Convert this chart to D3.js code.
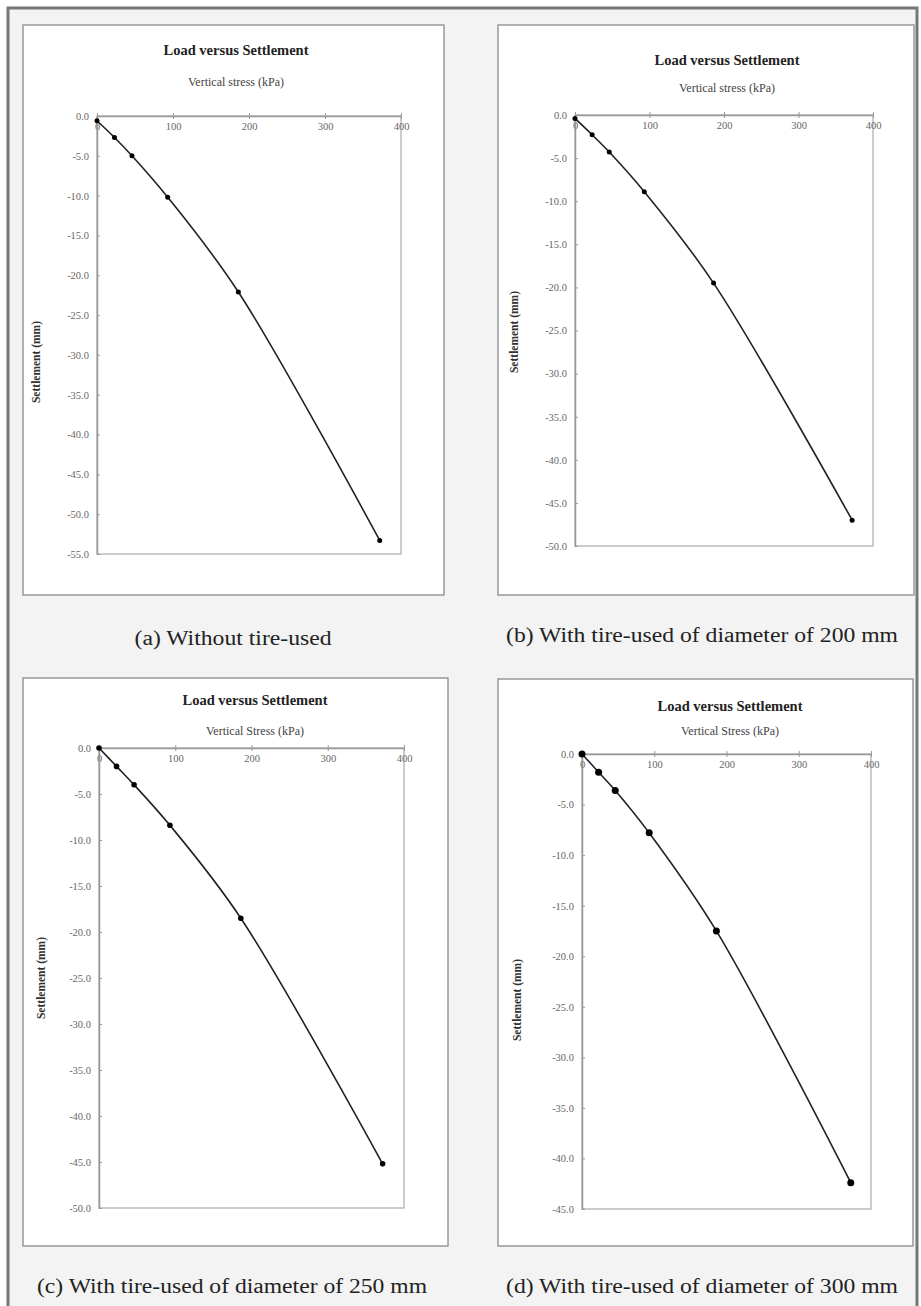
<!DOCTYPE html>
<html lang="en">
<head>
    <meta charset="UTF-8">
    <title>Load versus Settlement</title>
    <script src="https://d3js.org/d3.v7.min.js"></script>
    <style>
        body { margin: 0; background: #fff; }
        svg, svg text, .tick text { font-family: "Liberation Serif", "DejaVu Serif", serif !important; }
        .tick text { fill: #666; font-size: 10.5px; }
        .axis path, .axis line { stroke: #999; }
    </style>
</head>
<body>
    <svg width="921" height="1306"></svg>

    <script>
        // vertical stress (kPa), same load steps for each test
        const stress = [0, 23, 46, 93, 186, 372];
        // settlement (mm) per test
        const settleA = [-0.6, -2.7, -5.0, -10.2, -22.1, -53.3];
        const settleB = [-0.4, -2.3, -4.3, -8.9, -19.5, -47.0];
        const settleC = [0, -2.0, -4.0, -8.4, -18.5, -45.2];
        const settleD = [0, -1.8, -3.6, -7.8, -17.5, -42.4];
        const yMins = [-55, -50, -50, -45];
        const xLabels = ["Vertical stress (kPa)", "Vertical stress (kPa)", "Vertical Stress (kPa)", "Vertical Stress (kPa)"];
        const captions = [
            "(a) Without tire-used",
            "(b) With tire-used of diameter of 200 mm",
            "(c) With tire-used of diameter of 250 mm",
            "(d) With tire-used of diameter of 300 mm"
        ];
        const series = [settleA, settleB, settleC, settleD];
        const serif = "'Liberation Serif', 'DejaVu Serif', serif";

        // layout of each panel: box, plot area, title / label / caption positions
        const panels = [
            { box: [23, 25, 444, 595], plot: [97, 116, 401, 554], tx: 236, ty: 55, sy: 86, yl: 40, yc: 362, cx: 233, cy: 645, cw: 197, r: 2.5 },
            { box: [498, 25, 914, 595], plot: [575, 115, 873, 546], tx: 727, ty: 65, sy: 92, yl: 518, yc: 332, cx: 702, cy: 642, cw: 392, r: 2.5 },
            { box: [23, 678, 448, 1246], plot: [99, 748, 404, 1208], tx: 255, ty: 705, sy: 735, yl: 45, yc: 978, cx: 232, cy: 1293, cw: 390, r: 2.8 },
            { box: [498, 679, 913, 1246], plot: [582, 754, 871, 1209], tx: 730, ty: 711, sy: 735, yl: 521, yc: 1000, cx: 702, cy: 1293, cw: 392, r: 3.5 }
        ];

        const svg = d3.select("svg").attr("font-family", serif);

        // outer frame
        svg.append("rect")
            .attr("x", 8).attr("y", 8).attr("width", 909).attr("height", 1310)
            .attr("fill", "#f3f3f3").attr("stroke", "#777").attr("stroke-width", 3);

        panels.forEach((p, i) => {
            const g = svg.append("g");
            const [bx0, by0, bx1, by1] = p.box;
            const [px0, py0, px1, py1] = p.plot;

            g.append("rect")
                .attr("x", bx0).attr("y", by0)
                .attr("width", bx1 - bx0).attr("height", by1 - by0)
                .attr("fill", "#fff").attr("stroke", "#999").attr("stroke-width", 1.5);

            const x = d3.scaleLinear().domain([0, 400]).range([px0, px1]);
            const y = d3.scaleLinear().domain([0, yMins[i]]).range([py0, py1]);

            // plot frame
            g.append("rect")
                .attr("x", px0).attr("y", py0)
                .attr("width", px1 - px0).attr("height", py1 - py0)
                .attr("fill", "none").attr("stroke", "#aaa").attr("stroke-width", 1.2);

            // x axis on top, labels under it
            const xa = g.append("g")
                .attr("class", "axis")
                .attr("transform", `translate(0,${py0})`)
                .call(d3.axisBottom(x).tickValues([0, 100, 200, 300, 400]).tickSize(3).tickSizeOuter(0));
            xa.attr("font-family", serif);
            xa.select(".domain").attr("stroke-width", 1.5);
            xa.selectAll(".tick line").attr("y1", -3);
            xa.selectAll(".tick text").attr("dy", "0.9em").attr("y", 5).style("font-family", serif);

            const ya = g.append("g")
                .attr("class", "axis")
                .attr("transform", `translate(${px0},0)`)
                .call(d3.axisLeft(y)
                    .tickValues(d3.range(0, yMins[i] - 0.1, -5))
                    .tickFormat(d => d.toFixed(1))
                    .tickSize(3).tickSizeOuter(0));
            ya.attr("font-family", serif);
            ya.select(".domain").attr("stroke-width", 1.5);
            ya.selectAll(".tick line").attr("x2", 3);
            ya.selectAll(".tick text").attr("x", -8).style("font-family", serif);

            // titles
            g.append("text")
                .attr("x", p.tx).attr("y", p.ty)
                .attr("text-anchor", "middle")
                .style("font-family", serif)
                .attr("font-size", 14.5).attr("font-weight", "bold").attr("fill", "#222")
                .text("Load versus Settlement");
            g.append("text")
                .attr("x", p.tx).attr("y", p.sy)
                .attr("text-anchor", "middle")
                .style("font-family", serif)
                .attr("font-size", 12).attr("fill", "#444")
                .text(xLabels[i]);
            g.append("text")
                .attr("transform", `translate(${p.yl},${p.yc}) rotate(-90)`)
                .attr("text-anchor", "middle")
                .style("font-family", serif)
                .attr("font-size", 11.5).attr("font-weight", "bold").attr("fill", "#333")
                .text("Settlement (mm)");

            const pts = stress.map((s, k) => [s, series[i][k]]);

            g.append("path")
                .datum(pts)
                .attr("fill", "none")
                .attr("stroke", "#222")
                .attr("stroke-width", 1.6)
                .attr("d", d3.line().x(d => x(d[0])).y(d => y(d[1])).curve(d3.curveCatmullRom));

            g.selectAll(".pt")
                .data(pts)
                .enter()
                .append("circle")
                .attr("cx", d => x(d[0]))
                .attr("cy", d => y(d[1]))
                .attr("r", p.r)
                .attr("fill", "#000");

            // caption
            svg.append("text")
                .attr("x", p.cx).attr("y", p.cy)
                .attr("text-anchor", "middle")
                .style("font-family", serif)
                .attr("font-size", 20).attr("fill", "#222")
                .attr("textLength", p.cw)
                .attr("lengthAdjust", "spacingAndGlyphs")
                .text(captions[i]);
        });
    </script>
</body>
</html>
